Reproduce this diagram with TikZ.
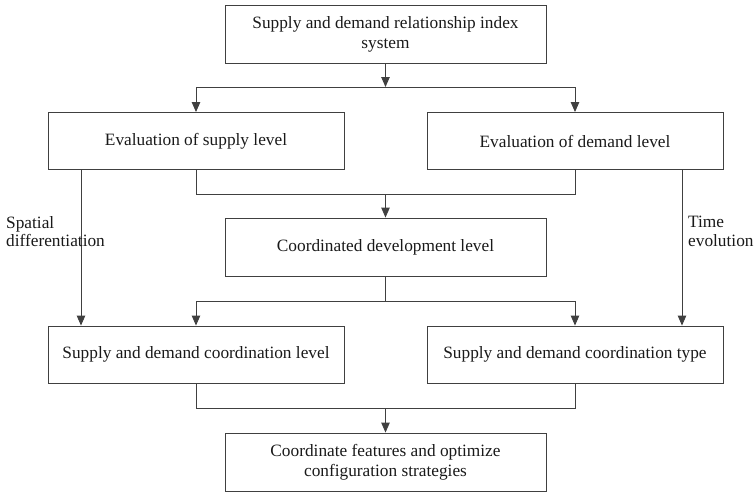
\documentclass[tikz,border=0pt]{standalone}
\usepackage{fontspec}
\setmainfont{Liberation Serif}
\usetikzlibrary{arrows.meta}
\begin{document}
\begin{tikzpicture}[x=1pt,y=-1pt,
  box/.style={draw=black!75,line width=0.9pt,rectangle,align=center,
    inner sep=0pt,font=\fontsize{17.3}{20}\selectfont,text=black!90},
  widebox/.style={box,minimum width=321pt,minimum height=58pt},
  sidebox/.style={box,minimum width=296pt,minimum height=57pt},
  link/.style={draw=black!75,line width=0.9pt},
  arr/.style={link,-{Triangle[length=10pt,width=8.5pt]}},
  side/.style={align=left,inner sep=0pt,anchor=north west,
    font=\fontsize{17.3}{18.5}\selectfont,text=black!90}]
\useasboundingbox (0,0) rectangle (756,493);

% boxes
\node[widebox] (idx) at (385.5,34) {Supply and demand relationship index\\system};
\node[sidebox] (sup) at (196,141) {Evaluation of supply level};
\node[sidebox] (dem) at (575,141) {Evaluation of demand level};
\node[widebox] (cdl) at (385.5,247) {Coordinated development level};
\node[sidebox] (scl) at (196,354.5) {Supply and demand coordination level};
\node[sidebox] (sct) at (575,354.5) {Supply and demand coordination type};
\node[widebox] (opt) at (385.5,462) {Coordinate features and optimize\\configuration strategies};

% junction levels
\coordinate (j1) at (385.5,87);
\coordinate (j2) at (385.5,194);
\coordinate (j3) at (385.5,301);
\coordinate (j4) at (385.5,408);

% index system -> both evaluations
\draw[arr] (idx) -- (j1);
\draw[link] (sup.north |- j1) -- (dem.north |- j1);
\draw[arr] (sup.north |- j1) -- (sup.north);
\draw[arr] (dem.north |- j1) -- (dem.north);

% both evaluations -> coordinated development
\draw[link] (sup.south) -- (sup.south |- j2) -- (dem.south |- j2) -- (dem.south);
\draw[arr] (j2) -- (cdl.north);

% coordinated development -> level and type
\draw[link] (cdl.south) -- (j3);
\draw[link] (scl.north |- j3) -- (sct.north |- j3);
\draw[arr] (scl.north |- j3) -- (scl.north);
\draw[arr] (sct.north |- j3) -- (sct.north);

% level and type -> strategies
\draw[link] (scl.south) -- (scl.south |- j4) -- (sct.south |- j4) -- (sct.south);
\draw[arr] (j4) -- (opt.north);

% side branches
\coordinate (ls) at (81,0);
\coordinate (rs) at (682,0);
\draw[arr] (ls |- sup.south) -- (ls |- scl.north);
\draw[arr] (rs |- dem.south) -- (rs |- sct.north);
\node[side] (spd) at (6,216) {Spatial\\differentiation};
\node[side] (tev) at (688,216) {Time\\evolution};
\end{tikzpicture}
\end{document}
